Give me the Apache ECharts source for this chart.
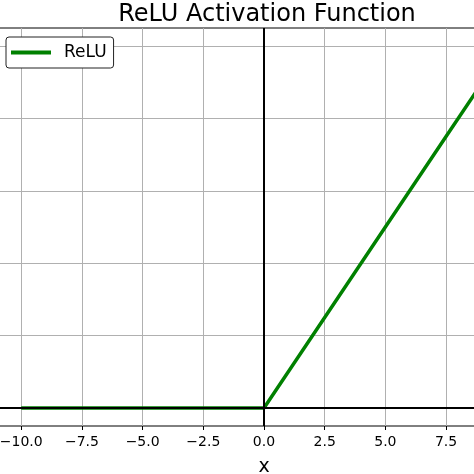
<!DOCTYPE html>
<html>
<head>
<meta charset="utf-8">
<script src="https://cdn.jsdelivr.net/npm/echarts@6/dist/echarts.min.js"></script>
<style>
  html, body { margin: 0; padding: 0; background: #fff; }
  #main { width: 474px; height: 474px; }
</style>
</head>
<body>
<div id="main"></div>
<script>
// ReLU sampled at the tick positions
var xs = [-10, -7.5, -5, -2.5, 0, 2.5, 5, 7.5, 10];
var relu = [0, 0, 0, 0, 0, 2.5, 5, 7.5, 10];
var xTicks = [-10, -7.5, -5, -2.5, 0, 2.5, 5, 7.5, 10];
var yTicks = [0, 2, 4, 6, 8, 10];

var chart = echarts.init(document.getElementById('main'));
var font = 'DejaVu Sans';

var pts = [];
for (var i = 0; i < xs.length; i++) {
  pts.push([xs[i], relu[i]]);
}

var option = {
  animation: false,
  backgroundColor: '#fff',
  textStyle: { fontFamily: font },
  title: {
    text: 'ReLU Activation Function',
    left: 262, top: -2, textAlign: 'center',
    textStyle: { fontFamily: font, fontSize: 24, fontWeight: 'normal', color: '#000' }
  },
  legend: {
    left: 6, top: 37,
    itemWidth: 40, itemHeight: 4, itemGap: 0,
    padding: [7, 7, 7, 5],
    borderColor: '#222', borderWidth: 1, borderRadius: 3,
    backgroundColor: '#fff',
    icon: 'rect',
    textStyle: { fontFamily: font, fontSize: 17, color: '#000', padding: [0, 0, 0, 8] },
    data: ['ReLU']
  },
  grid: {
    left: -3, top: 28, width: 534, height: 398,
    outerBoundsMode: 'none',
    containLabel: false,
    show: true, borderColor: '#000', borderWidth: 1
  },
  xAxis: {
    type: 'value', min: -11, max: 11,
    name: 'x', nameLocation: 'middle', nameGap: 32,
    nameTextStyle: { fontFamily: font, fontSize: 19, color: '#000' },
    axisLine: { show: false, onZero: false },
    axisTick: { show: true, length: 4, customValues: xTicks, lineStyle: { color: '#000', width: 1 } },
    axisLabel: {
      customValues: xTicks, margin: 9,
      fontFamily: font, fontSize: 14, color: '#000',
      formatter: function (v) { return (v < 0 ? '\u2212' : '') + Math.abs(v).toFixed(1); }
    },
    splitLine: { show: true, lineStyle: { color: '#b0b0b0', width: 1 } }
  },
  yAxis: {
    type: 'value', min: -0.5, max: 10.5,
    axisLine: { show: false, onZero: false },
    axisTick: { show: false, customValues: yTicks },
    axisLabel: { show: false, customValues: yTicks },
    splitLine: { show: true, lineStyle: { color: '#b0b0b0', width: 1 } }
  },
  series: [
    {
      name: 'ReLU', type: 'line', data: pts,
      showSymbol: false, symbol: 'none',
      color: '#008000',
      lineStyle: { color: '#008000', width: 3.5 },
      z: 3
    },
    {
      type: 'line', data: [], silent: true, z: 4,
      markLine: {
        silent: true, symbol: 'none', animation: false,
        label: { show: false },
        lineStyle: { color: '#000', width: 2, type: 'solid' },
        data: [{ xAxis: 0 }, { yAxis: 0 }]
      }
    }
  ]
};
chart.setOption(option);
</script>
</body>
</html>
